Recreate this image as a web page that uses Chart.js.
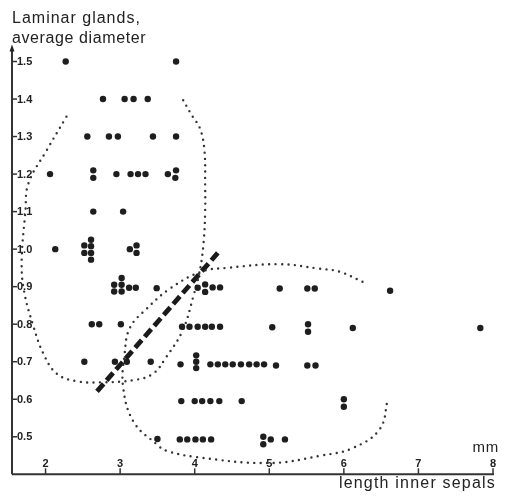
<!DOCTYPE html>
<html>
<head>
<meta charset="utf-8">
<script src="https://cdn.jsdelivr.net/npm/chart.js@4/dist/chart.umd.min.js"></script>
<style>
  html, body { margin: 0; padding: 0; background: #fff; }
  #sepals { display: block; }
</style>
</head>
<body>
<canvas id="sepals" width="506" height="501"></canvas>
<script>
// length of inner sepals (mm) vs. average diameter of laminar glands, one dot per specimen
var sepalLength = [
    2.27, 3.75,
    2.77, 3.06, 3.18, 3.37,
    2.56, 2.85, 2.97, 3.44, 3.75,
    2.06, 2.64, 2.64, 2.95, 3.14, 3.24, 3.34, 3.64, 3.75, 3.74,
    2.64, 3.04,
    2.13, 2.52, 2.52, 2.61, 2.61, 2.61, 2.61, 3.13, 3.22, 3.22,
    2.92, 3.02, 2.92, 3.02, 3.02, 3.12, 3.21, 3.49, 4.04, 4.14, 4.14, 4.24, 4.34, 5.14, 5.51, 5.61, 6.62,
    2.62, 2.72, 3.01, 3.83, 3.93, 4.04, 4.14, 4.23, 4.34, 5.04, 5.52, 5.52, 6.12, 7.83,
    2.52, 2.93, 3.09, 3.41, 3.81, 4.02, 4.02, 4.02, 4.21, 4.31, 4.41, 4.51, 4.62, 4.73, 4.83, 4.93, 5.09, 5.51, 5.62,
    3.82, 4.00, 4.10, 4.21, 4.33, 4.63, 6.00, 6.00,
    3.50, 3.80, 3.90, 4.01, 4.11, 4.22, 4.92, 4.92, 5.02, 5.21
];
var glandDiameter = [
    1.50, 1.50,
    1.40, 1.40, 1.40, 1.40,
    1.30, 1.30, 1.30, 1.30, 1.30,
    1.20, 1.21, 1.19, 1.20, 1.20, 1.20, 1.20, 1.20, 1.21, 1.19,
    1.10, 1.10,
    1.00, 1.01, 0.99, 1.025, 1.008, 0.99, 0.972, 1.00, 1.01, 0.99,
    0.905, 0.905, 0.887, 0.887, 0.923, 0.897, 0.897, 0.896, 0.897, 0.906, 0.886, 0.898, 0.898, 0.895, 0.895, 0.895, 0.889,
    0.80, 0.80, 0.80, 0.793, 0.793, 0.793, 0.793, 0.793, 0.793, 0.792, 0.80, 0.78, 0.79, 0.79,
    0.70, 0.70, 0.70, 0.70, 0.693, 0.717, 0.70, 0.683, 0.693, 0.693, 0.693, 0.693, 0.693, 0.693, 0.693, 0.693, 0.69, 0.69, 0.69,
    0.595, 0.595, 0.595, 0.595, 0.595, 0.595, 0.60, 0.58,
    0.494, 0.493, 0.493, 0.493, 0.493, 0.493, 0.50, 0.48, 0.493, 0.493
];

// dotted outline round the short-sepal group (open at the top)
var outlineAx = [2.28, 2.02, 1.77, 1.73, 1.68, 1.71, 1.84, 1.97, 2.15, 2.42, 2.73, 3.18, 3.44, 3.62, 3.84, 3.98, 4.07, 4.12, 4.14, 4.14, 4.13, 4.07, 3.96, 3.82];
var outlineAy = [1.353, 1.265, 1.175, 1.10, 0.97, 0.89, 0.793, 0.722, 0.668, 0.648, 0.645, 0.651, 0.668, 0.713, 0.784, 0.873, 0.944, 1.02, 1.10, 1.17, 1.264, 1.322, 1.357, 1.406];
// dotted outline round the long-sepal group (open at the right)
var outlineBx = [6.25, 5.94, 5.67, 5.14, 4.43, 4.09, 3.67, 3.35, 3.13, 3.06, 3.04, 3.18, 3.49, 3.62, 4.02, 5.00, 5.70, 6.12, 6.48, 6.59];
var outlineBy = [0.913, 0.94, 0.948, 0.96, 0.95, 0.94, 0.895, 0.84, 0.79, 0.72, 0.633, 0.54, 0.48, 0.463, 0.446, 0.43, 0.45, 0.47, 0.52, 0.60];
// dashed dividing line
var dividerX = [2.69, 4.31];
var dividerY = [0.621, 0.990];

var xTickValues = [2, 3, 4, 5, 6, 7, 8];
var xTickLabels = ['2', '3', '4', '5', '6', '7', '8'];
var yTickValues = [0.5, 0.6, 0.7, 0.8, 0.9, 1.0, 1.1, 1.2, 1.3, 1.4, 1.5];
var yTickLabels = ['0.5', '0.6', '0.7', '0.8', '0.9', '1.0', '1.1', '1.2', '1.3', '1.4', '1.5'];

function pairs(xs, ys) {
    return xs.map(function(x, i) { return {x: x, y: ys[i]}; });
}

var ink = '#222';

// axes are drawn by hand: ticks point inwards, labels sit inside the frame
var sketchAxes = {
    id: 'sketchAxes',
    beforeDatasetsDraw: function(chart) {
        var ctx = chart.ctx;
        var xs = chart.scales.x, ys = chart.scales.y;
        var left = xs.getPixelForValue(xs.min);
        var bottom = ys.getPixelForValue(ys.min);
        var right = xs.getPixelForValue(8);
        var top = ys.getPixelForValue(1.5);

        ctx.save();
        ctx.strokeStyle = '#333';
        ctx.fillStyle = ink;
        ctx.lineWidth = 2;

        // y axis with arrow
        ctx.beginPath();
        ctx.moveTo(left, bottom);
        ctx.lineTo(left, top - 12);
        ctx.stroke();
        ctx.beginPath();
        ctx.moveTo(left, top - 17);
        ctx.lineTo(left - 2.5, top - 10);
        ctx.lineTo(left + 2.5, top - 10);
        ctx.closePath();
        ctx.fill();

        // x axis
        ctx.beginPath();
        ctx.moveTo(left, bottom);
        ctx.lineTo(right + 1, bottom);
        ctx.stroke();

        ctx.lineWidth = 1.5;
        ctx.font = 'bold 11px "Liberation Sans", Arial, sans-serif';
        ctx.textBaseline = 'middle';
        ctx.textAlign = 'left';
        yTickValues.forEach(function(v, i) {
            var py = ys.getPixelForValue(v);
            ctx.beginPath();
            ctx.moveTo(left, py);
            ctx.lineTo(left + 5, py);
            ctx.stroke();
            ctx.fillText(yTickLabels[i], left + 5, py + 0.5);
        });

        ctx.textAlign = 'center';
        ctx.textBaseline = 'alphabetic';
        xTickValues.forEach(function(v, i) {
            var px = xs.getPixelForValue(v);
            ctx.beginPath();
            ctx.moveTo(px, bottom);
            ctx.lineTo(px, bottom - 6);
            ctx.stroke();
            ctx.fillText(xTickLabels[i], px, bottom - 7);
        });

        // axis titles
        ctx.font = '16px "Liberation Sans", Arial, sans-serif';
        ctx.textAlign = 'left';
        ctx.letterSpacing = '1px';
        ctx.fillText('Laminar glands,', 12, 23);
        ctx.letterSpacing = '0.6px';
        ctx.fillText('average diameter', 12, 43);
        ctx.textAlign = 'right';
        ctx.letterSpacing = '1.2px';
        ctx.fillText('length inner sepals', 496, 488);
        ctx.letterSpacing = '0.8px';
        ctx.font = '15px "Liberation Sans", Arial, sans-serif';
        ctx.fillText('mm', 499, 452);
        ctx.restore();
    }
};

var dotted = {
    showLine: true,
    pointRadius: 0,
    borderColor: '#333',
    borderWidth: 2.4,
    borderDash: [0, 6.4],
    borderCapStyle: 'round',
    tension: 0.4,
    fill: false,
    clip: false
};

new Chart(document.getElementById('sepals'), {
    type: 'scatter',
    data: {
        datasets: [
            {
                label: 'specimens',
                data: pairs(sepalLength, glandDiameter),
                pointRadius: 3.2,
                pointBackgroundColor: '#1e1e1e',
                pointBorderWidth: 0,
                clip: false
            },
            Object.assign({label: 'group A', data: pairs(outlineAx, outlineAy)}, dotted),
            Object.assign({label: 'group B', data: pairs(outlineBx, outlineBy)}, dotted),
            {
                label: 'divider',
                data: pairs(dividerX, dividerY),
                showLine: true,
                pointRadius: 0,
                borderColor: '#1a1a1a',
                borderWidth: 4.8,
                borderDash: [10, 4.5],
                borderCapStyle: 'butt',
                clip: false
            }
        ]
    },
    options: {
        responsive: false,
        animation: false,
        layout: { padding: { left: 12, right: 13, top: 61.5, bottom: 26.7 } },
        scales: {
            x: { type: 'linear', min: 1.55, max: 8, display: false },
            y: { type: 'linear', min: 0.4, max: 1.5, display: false }
        },
        plugins: {
            legend: { display: false },
            tooltip: { enabled: false }
        }
    },
    plugins: [sketchAxes]
});
</script>
</body>
</html>
